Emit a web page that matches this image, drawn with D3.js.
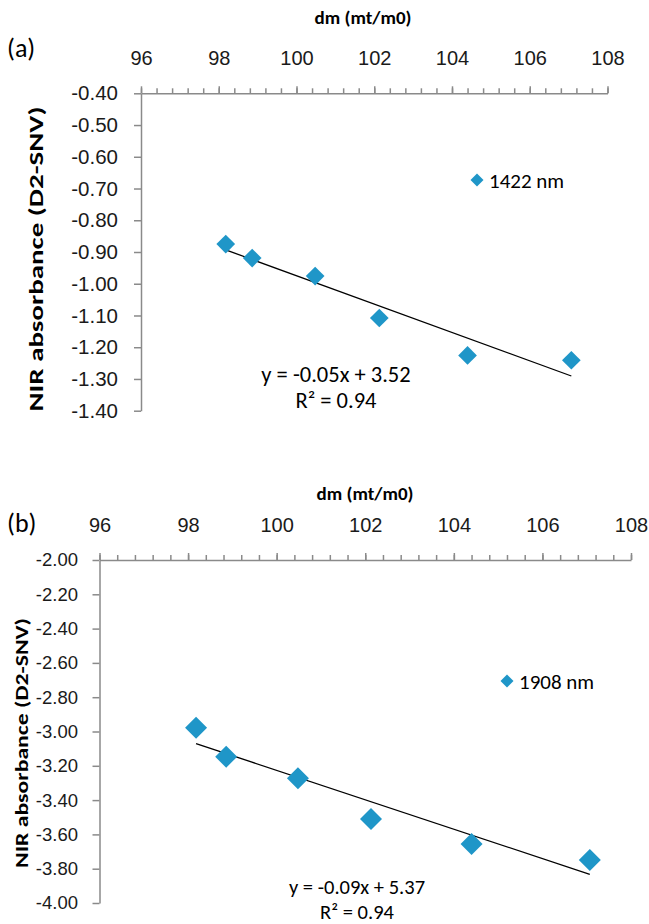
<!DOCTYPE html>
<html>
<head>
<meta charset="utf-8">
<script src="https://cdn.jsdelivr.net/npm/d3@7"></script>
<style>
  body { margin: 0; background: #fff; }
  svg { display: block; font-family: Carlito, "Open Sans", sans-serif; }
</style>
</head>
<body>
<script>
// dm values shared by both panels
const dmValues = [98.18, 98.86, 100.48, 102.13, 104.40, 107.07];
// NIR absorbance (D2-SNV) at each wavelength
const absorb1422 = [-0.875, -0.919, -0.976, -1.108, -1.226, -1.241];
const absorb1908 = [-2.978, -3.147, -3.273, -3.510, -3.656, -3.749];

// tick labels
const xTicks = [96, 98, 100, 102, 104, 106, 108];
const yTicksA = [-0.40, -0.50, -0.60, -0.70, -0.80, -0.90, -1.00, -1.10, -1.20, -1.30, -1.40];
const yTicksB = [-2.00, -2.20, -2.40, -2.60, -2.80, -3.00, -3.20, -3.40, -3.60, -3.80, -4.00];

// trendline equations as printed
const eqA = ["y = -0.05x + 3.52", "R\u00B2 = 0.94"];
const eqB = ["y = -0.09x + 5.37", "R\u00B2 = 0.94"];

const xTitle = "dm (mt/m0)";
const yTitle = "NIR absorbance (D2-SNV)";
const blue = "#1f96c8";
const axisGrey = "#8a8a8a";

const svg = d3.select("body").append("svg")
  .attr("width", 649)
  .attr("height", 924);

// least squares fit, used for the trend line
function fit(xs, ys) {
  const mx = d3.mean(xs), my = d3.mean(ys);
  const sxy = d3.sum(xs, (x, i) => (x - mx) * (ys[i] - my));
  const sxx = d3.sum(xs, x => (x - mx) * (x - mx));
  const b = sxy / sxx;
  return { slope: b, icpt: my - b * mx };
}

function drawPanel(p) {
  const x = d3.scaleLinear().domain([96, 108]).range([p.left, p.right]);
  const y = d3.scaleLinear().domain(p.yDomain).range([p.top, p.bottom]);
  const g = svg.append("g");

  // minor x ticks
  g.append("g")
    .attr("transform", `translate(0,${p.top})`)
    .call(d3.axisTop(x).tickValues(d3.range(0, 31).map(i => 96 + i * 0.4)).tickSize(5).tickFormat(""))
    .call(a => a.select(".domain").remove());

  // major x axis
  const xa = g.append("g")
    .attr("transform", `translate(0,${p.top})`)
    .call(d3.axisTop(x).tickValues(xTicks).tickSize(7).tickSizeOuter(0).tickPadding(p.xPad).tickFormat(d => d));
  xa.selectAll("text").style("font-size", p.xFont + "px").attr("fill", "#1a1a1a");

  // y axis
  const ya = g.append("g")
    .attr("transform", `translate(${p.left},0)`)
    .call(d3.axisLeft(y).tickValues(p.yTicks).tickSize(7).tickSizeOuter(0).tickPadding(p.yPad).tickFormat(d => d.toFixed(2)));
  ya.selectAll("text").style("font-size", p.yFont + "px").attr("fill", "#1a1a1a");

  g.selectAll(".domain, .tick line").attr("stroke", axisGrey).attr("stroke-width", 1.5);

  // axis titles
  g.append("text")
    .attr("x", p.xTitleX).attr("y", p.xTitleY)
    .attr("text-anchor", "middle")
    .style("font-size", "19px").style("font-weight", "bold")
    .text(xTitle);

  g.append("text")
    .attr("transform", `translate(${p.yTitleX},${p.yTitleY}) rotate(-90)`)
    .attr("text-anchor", "middle")
    .attr("dy", "0.36em")
    .attr("textLength", p.yTitleLen)
    .attr("lengthAdjust", "spacingAndGlyphs")
    .style("font-size", p.yTitleFont + "px").style("font-weight", "bold")
    .text(yTitle);

  // panel tag
  g.append("text")
    .attr("x", 7).attr("y", p.tagY)
    .style("font-size", "26px")
    .text(p.tag);

  // trend line
  const f = fit(dmValues, p.values);
  const x0 = d3.min(dmValues), x1 = d3.max(dmValues);
  g.append("line")
    .attr("x1", x(x0)).attr("y1", y(f.icpt + f.slope * x0))
    .attr("x2", x(x1)).attr("y2", y(f.icpt + f.slope * x1))
    .attr("stroke", "#000").attr("stroke-width", 1.3);

  // diamonds
  const diamond = d3.symbol().type(d3.symbolSquare).size(p.markSize);
  g.selectAll(".pt")
    .data(dmValues.map((d, i) => [d, p.values[i]]))
    .enter().append("path")
    .attr("class", "pt")
    .attr("d", diamond)
    .attr("transform", d => `translate(${x(d[0])},${y(d[1])}) rotate(45)`)
    .attr("fill", blue);

  // legend
  g.append("path")
    .attr("d", d3.symbol().type(d3.symbolSquare).size(85))
    .attr("transform", `translate(${p.legX},${p.legY}) rotate(45)`)
    .attr("fill", blue);
  g.append("text")
    .attr("x", p.legX + 12).attr("y", p.legY)
    .attr("dy", "0.36em")
    .style("font-size", "21px")
    .text(p.legend);

  // equation
  g.selectAll(".eq")
    .data(p.eq)
    .enter().append("text")
    .attr("class", "eq")
    .attr("x", p.eqX)
    .attr("y", (d, i) => p.eqY[i])
    .attr("text-anchor", "middle")
    .style("font-size", p.eqFont + "px")
    .text(d => d);
}

drawPanel({
  tag: "(a)", tagY: 57,
  left: 141, right: 607.5, top: 93.3, bottom: 410.7,
  yDomain: [-0.40, -1.40], yTicks: yTicksA, values: absorb1422,
  xPad: 21, yPad: 16, xFont: 20, yFont: 20.5,
  xTitleX: 363, xTitleY: 24,
  yTitleX: 35, yTitleY: 259, yTitleLen: 305, yTitleFont: 21,
  markSize: 175,
  legX: 477, legY: 180, legend: "1422 nm",
  eq: eqA, eqX: 336, eqY: [382, 408], eqFont: 22.5
});

drawPanel({
  tag: "(b)", tagY: 532,
  left: 99.5, right: 631, top: 560, bottom: 903,
  yDomain: [-2.00, -4.00], yTicks: yTicksB, values: absorb1908,
  xPad: 21, yPad: 14.5, xFont: 20, yFont: 18.5,
  xTitleX: 365, xTitleY: 500,
  yTitleX: 21.5, yTitleY: 743, yTitleLen: 250, yTitleFont: 18,
  markSize: 242,
  legX: 507, legY: 681, legend: "1908 nm",
  eq: eqB, eqX: 357, eqY: [894, 919], eqFont: 20.5
});
</script>
</body>
</html>
